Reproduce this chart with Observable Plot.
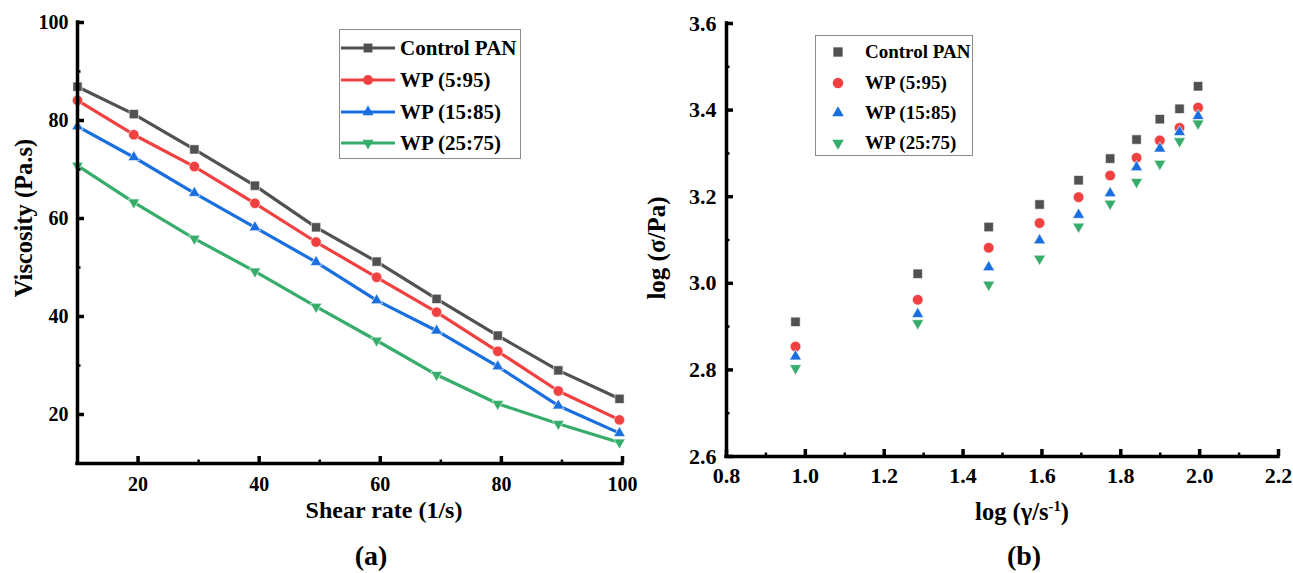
<!DOCTYPE html>
<html>
<head>
<meta charset="utf-8">
<script src="https://cdn.jsdelivr.net/npm/d3@7"></script>
<script src="https://cdn.jsdelivr.net/npm/@observablehq/plot@0.6"></script>
<style>
  body { margin: 0; background: #fff; }
  #wrap { position: relative; width: 1293px; height: 573px; overflow: hidden; background: #fff;
          font-family: "Liberation Serif", "Times New Roman", serif; font-weight: bold; color: #000; }
  .pane { position: absolute; top: 0; }
  .title { position: absolute; white-space: nowrap; transform: translate(-50%, -50%); line-height: 1; }
  .ytitle { position: absolute; white-space: nowrap; transform: translate(-50%, -50%) rotate(-90deg); line-height: 1; }
  .legend { position: absolute; background: #fff; border: 1.5px solid #8a8a8a; box-sizing: border-box; }
  sup { font-size: 0.6em; vertical-align: 0.6em; line-height: 0; }
</style>
</head>
<body>
<div id="wrap"></div>
<script>
// ---------- data ----------
const seriesNames = ["Control PAN", "WP (5:95)", "WP (15:85)", "WP (25:75)"];
const seriesColors = ["#515151", "#F14040", "#1A6FDF", "#37AD6B"];

// (a) viscosity vs shear rate
const shearRate = [10, 19.3, 29.3, 39.3, 49.4, 59.4, 69.3, 79.4, 89.4, 99.5];
const viscosityControl = [86.9, 81.3, 74.1, 66.7, 58.2, 51.2, 43.6, 36.1, 29.0, 23.2];
const viscosityWP595   = [84.1, 77.1, 70.6, 63.1, 55.2, 48.0, 40.9, 32.9, 24.8, 18.9];
const viscosityWP1585  = [78.8, 72.5, 65.2, 58.2, 51.1, 43.3, 37.1, 29.8, 21.8, 16.2];
const viscosityWP2575  = [70.8, 63.3, 55.9, 49.2, 42.0, 35.1, 28.1, 22.2, 18.1, 14.3];

// (b) log stress vs log shear rate
const logShearRate = [0.975, 1.285, 1.465, 1.594, 1.693, 1.773, 1.840, 1.899, 1.949, 1.996];
const logStressControl = [2.911, 3.022, 3.130, 3.182, 3.238, 3.288, 3.332, 3.379, 3.403, 3.455];
const logStressWP595   = [2.854, 2.962, 3.082, 3.139, 3.199, 3.249, 3.290, 3.330, 3.359, 3.406];
const logStressWP1585  = [2.831, 2.929, 3.037, 3.099, 3.158, 3.208, 3.268, 3.311, 3.349, 3.386];
const logStressWP2575  = [2.804, 2.908, 2.997, 3.057, 3.131, 3.184, 3.234, 3.276, 3.328, 3.369];

// axes
const xDomainA = [10, 100], yDomainA = [10, 100];
const xTicksA = [20, 40, 60, 80, 100], xMinorA = [30, 50, 70, 90];
const yTicksA = [20, 40, 60, 80, 100], yMinorA = [30, 50, 70, 90];
const xDomainB = [0.8, 2.2], yDomainB = [2.6, 3.6];
const xTicksB = [0.8, 1.0, 1.2, 1.4, 1.6, 1.8, 2.0, 2.2], xMinorB = [0.9, 1.1, 1.3, 1.5, 1.7, 1.9, 2.1];
const yTicksB = [2.6, 2.8, 3.0, 3.2, 3.4, 3.6], yMinorB = [2.7, 2.9, 3.1, 3.3, 3.5];

const xTitleA = "Shear rate (1/s)", yTitleA = "Viscosity (Pa.s)", panelA = "(a)";
const yTitleB = "log (σ/Pa)", panelB = "(b)";

// ---------- symbols ----------
const triangleDown = {
  draw(context, size) {
    const s3 = Math.sqrt(3);
    const y = -Math.sqrt(size / (s3 * 3));
    context.moveTo(0, -y * 2);
    context.lineTo(-s3 * y, y);
    context.lineTo(s3 * y, y);
    context.closePath();
  }
};
const seriesSymbols = ["square", "circle", "triangle", triangleDown];
const d3Symbols = [d3.symbolSquare, d3.symbolCircle, d3.symbolTriangle, triangleDown];
const symbolR = [5, 5, 4.1, 4.1];

const viscosity = [viscosityControl, viscosityWP595, viscosityWP1585, viscosityWP2575];
const logStress = [logStressControl, logStressWP595, logStressWP1585, logStressWP2575];

const rowsA = seriesNames.map((s, i) => shearRate.map((x, j) => ({series: s, x, y: viscosity[i][j]})));
const rowsB = seriesNames.map((s, i) => logShearRate.map((x, j) => ({series: s, x, y: logStress[i][j]})));

const wrap = document.getElementById("wrap");
const baseStyle = {fontFamily: "'Liberation Serif', 'Times New Roman', serif", fontWeight: "bold",
                   color: "#000", background: "transparent", overflow: "visible"};

// axis lines, inward ticks and labels
function axisMarks(xDomain, yDomain, xTicks, xMinor, yTicks, yMinor, fmt, fontSize, padX, padY, innerW, innerH) {
  return [
    Plot.ruleX([xDomain[0]], {strokeWidth: 3.5, strokeLinecap: "square"}),
    Plot.ruleY([yDomain[0]], {strokeWidth: 3.5, strokeLinecap: "square"}),
    Plot.tickY(yTicks, {y: d => d, insetRight: innerW - 7, strokeWidth: 3.5}),
    Plot.tickY(yMinor, {y: d => d, insetRight: innerW - 3.5, strokeWidth: 2.5}),
    Plot.tickX(xTicks, {x: d => d, insetTop: innerH - 7, strokeWidth: 3.5}),
    Plot.tickX(xMinor, {x: d => d, insetTop: innerH - 3.5, strokeWidth: 2.5}),
    Plot.axisY(yTicks, {tickSize: 0, tickPadding: padY, tickFormat: fmt, fontSize, label: null}),
    Plot.axisX(xTicks, {tickSize: 0, tickPadding: padX, tickFormat: fmt, fontSize, label: null})
  ];
}

// ---------- panel (a) ----------
const dimA = {width: 640, height: 573, marginLeft: 77, marginRight: 18, marginTop: 22, marginBottom: 110};
const plotA = Plot.plot({
  ...dimA,
  style: {...baseStyle, fontSize: "20px"},
  x: {domain: xDomainA, label: null},
  y: {domain: yDomainA, label: null},
  marks: [
    ...rowsA.map((rows, i) => Plot.line(rows, {x: "x", y: "y", stroke: seriesColors[i], strokeWidth: 3.2})),
    ...rowsA.map((rows, i) => Plot.dot(rows, {x: "x", y: "y", symbol: seriesSymbols[i], r: symbolR[i] + 0.2,
                                              fill: seriesColors[i], stroke: "#fff", strokeWidth: 0.6})),
    ...axisMarks(xDomainA, yDomainA, xTicksA, xMinorA, yTicksA, yMinorA, d => String(d), 20, 13, 9,
                 dimA.width - dimA.marginLeft - dimA.marginRight, dimA.height - dimA.marginTop - dimA.marginBottom)
  ]
});
const paneA = document.createElement("div");
paneA.className = "pane"; paneA.style.left = "0px";
paneA.appendChild(plotA);
wrap.appendChild(paneA);

// ---------- panel (b) ----------
const dimB = {width: 653, height: 573, marginLeft: 86, marginRight: 15, marginTop: 23, marginBottom: 117};
const plotB = Plot.plot({
  ...dimB,
  style: {...baseStyle, fontSize: "22px"},
  x: {domain: xDomainB, label: null},
  y: {domain: yDomainB, label: null},
  marks: [
    ...rowsB.map((rows, i) => Plot.dot(rows, {x: "x", y: "y", symbol: seriesSymbols[i], r: symbolR[i] + 0.3,
                                              fill: seriesColors[i], stroke: "#fff", strokeWidth: 0.6})),
    ...axisMarks(xDomainB, yDomainB, xTicksB, xMinorB, yTicksB, yMinorB, d3.format(".1f"), 22, 11, 10,
                 dimB.width - dimB.marginLeft - dimB.marginRight, dimB.height - dimB.marginTop - dimB.marginBottom)
  ]
});
const paneB = document.createElement("div");
paneB.className = "pane"; paneB.style.left = "640px";
paneB.appendChild(plotB);
wrap.appendChild(paneB);

// ---------- titles ----------
function addText(cls, html, x, y, size) {
  const d = document.createElement("div");
  d.className = cls; d.innerHTML = html;
  d.style.left = x + "px"; d.style.top = y + "px"; d.style.fontSize = size + "px";
  wrap.appendChild(d);
}
addText("title", xTitleA, 384, 510, 24);
addText("ytitle", yTitleA, 24, 218, 24.5);
addText("title", panelA, 371, 556, 28);
addText("title", "log (γ/s<sup>-1</sup>)", 1022, 512, 24.5);
addText("ytitle", yTitleB, 656, 248, 25);
addText("title", panelB, 1024, 556, 28);

// ---------- legends ----------
function addLegend(box, rowsY, withLine, markerX, lineX, textX, fontSize, rScale) {
  const leg = document.createElement("div");
  leg.className = "legend";
  Object.assign(leg.style, {left: box[0] + "px", top: box[1] + "px", width: box[2] + "px", height: box[3] + "px"});
  wrap.appendChild(leg);
  const svg = d3.select(leg).append("svg")
    .attr("width", box[2]).attr("height", box[3])
    .style("position", "absolute").style("left", "-1.5px").style("top", "-1.5px").style("overflow", "visible");
  seriesNames.forEach((name, i) => {
    const y = rowsY[i] - box[1];
    if (withLine) {
      svg.append("line").attr("x1", lineX[0] - box[0]).attr("x2", lineX[1] - box[0])
        .attr("y1", y).attr("y2", y).attr("stroke", seriesColors[i]).attr("stroke-width", 3.2);
    }
    const r = symbolR[i] * rScale;
    svg.append("path")
      .attr("d", d3.symbol().type(d3Symbols[i]).size(Math.PI * r * r)())
      .attr("transform", `translate(${markerX - box[0]},${y})`)
      .attr("fill", seriesColors[i]);
    svg.append("text").attr("x", textX - box[0]).attr("y", y).attr("dy", "0.34em")
      .attr("font-size", fontSize).attr("font-weight", "bold")
      .attr("font-family", "'Liberation Serif', 'Times New Roman', serif")
      .text(name);
  });
}
addLegend([339, 29, 182, 130], [48, 80, 112, 143], true, 368, [341, 395], 400, 21, 1);
addLegend([815, 35, 158, 121], [52, 83, 113, 143], false, 838, null, 865, 19, 1.05);
</script>
</body>
</html>
